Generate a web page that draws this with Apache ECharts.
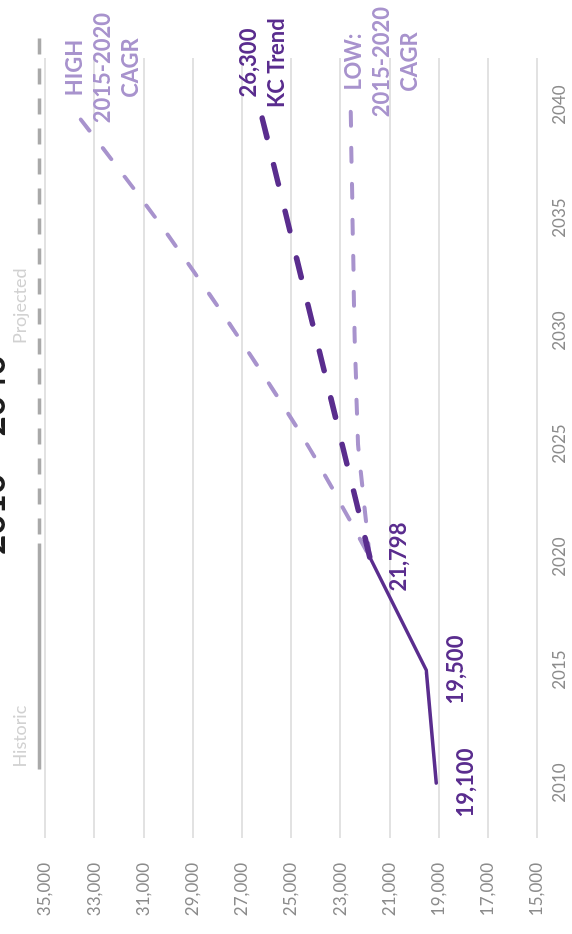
<!DOCTYPE html>
<html>
<head>
<meta charset="utf-8">
<script src="https://cdn.jsdelivr.net/npm/echarts@6/dist/echarts.min.js"></script>
<style>
  html, body { margin: 0; padding: 0; background: #fff; overflow: hidden; width: 572px; height: 934px; }
  #wrap { position: absolute; left: 0; top: 0; width: 934px; height: 572px;
          transform-origin: 0 0; transform: translate(0, 934px) rotate(-90deg); }
</style>
</head>
<body>
<div id="wrap"></div>
<script>
// ---- data ----
const yearTicks = [2010, 2015, 2020, 2025, 2030, 2035, 2040];
const histYears = [2010, 2015, 2020];
const histValues = [19100, 19500, 21798];
const trendYears = [2020, 2040];
const trendValues = [21798, 26300];
const projYears = [2020, 2025, 2030, 2035, 2040];
const highValues = [21798, 24350, 27300, 30500, 34000];
const lowValues = [21798, 22280, 22420, 22500, 22580];
const markerLevel = 35224;
const historicSpan = [2020.6, 2010.6];
const projectedSpan = [2021, 2043.5];
const projectedLabelYear = 2031.1;
const cagrPeriod = '2015-2020';
const titleText = '2010 \u2013 2040';

const DARK = '#5a2d8e';
const LIGHT = '#a893cd';
const GRAY = '#a9a9a9';
const FONT = 'Lato, "Open Sans", sans-serif';
const fmt = v => Math.round(v).toLocaleString('en-US');
const pairs = (xs, ys) => xs.map((x, i) => [x, ys[i]]);

const chart = echarts.init(document.getElementById('wrap'), null, { width: 934, height: 572 });

const yearMin = 2007.57, yearPerPx = 1 / 22.6;
const hiddenAxis = { show: false, axisLine: { show: false }, axisTick: { show: false }, axisLabel: { show: false }, splitLine: { show: false } };

chart.setOption({
  animation: false,
  backgroundColor: '#fff',
  textStyle: { fontFamily: FONT },
  title: {
    text: titleText, left: 374, top: -29,
    textStyle: { fontFamily: FONT, fontSize: 35, fontWeight: 'bold', color: '#1e1e1e' }
  },
  grid: [
    { left: 96, right: 58, top: 45, bottom: 35 },
    { left: 96, right: 22, top: 45, bottom: 35 }
  ],
  xAxis: [
    {
      type: 'value', min: yearMin, max: yearMin + 780 * yearPerPx, gridIndex: 0,
      axisLine: { show: false }, axisTick: { show: false }, splitLine: { show: false },
      axisLabel: { customValues: yearTicks, formatter: v => String(v), margin: 14, fontSize: 17, color: '#8c8c8c', fontFamily: FONT }
    },
    Object.assign({ type: 'value', min: yearMin, max: yearMin + 816 * yearPerPx, gridIndex: 1 }, hiddenAxis)
  ],
  yAxis: [
    {
      type: 'value', min: 15000, max: 35000, interval: 2000, gridIndex: 0,
      axisLine: { show: false }, axisTick: { show: false },
      splitLine: { lineStyle: { color: '#d9d9d9', width: 1.5 } },
      axisLabel: { formatter: v => fmt(v), margin: 25, fontSize: 17, color: '#8c8c8c', fontFamily: FONT }
    },
    Object.assign({ type: 'value', min: 15000, max: 35000, interval: 2000, gridIndex: 1 }, hiddenAxis)
  ],
  series: [
    {
      name: 'historicMarker', type: 'line', clip: false, silent: true, xAxisIndex: 1, yAxisIndex: 1,
      data: historicSpan.map(x => [x, markerLevel]),
      symbol: 'none', lineStyle: { color: GRAY, width: 3.5 }
    },
    {
      name: 'projectedMarker', type: 'line', clip: false, silent: true, xAxisIndex: 1, yAxisIndex: 1,
      data: projectedSpan.map(x => [x, markerLevel]),
      symbol: 'none', lineStyle: { color: GRAY, width: 3.5, type: [16, 14] }
    },
    {
      name: 'markerLabels', type: 'scatter', clip: false, silent: true, xAxisIndex: 1, yAxisIndex: 1,
      symbolSize: 1, itemStyle: { color: 'rgba(0,0,0,0)' },
      data: [
        { value: [historicSpan[1], markerLevel], label: { formatter: 'Historic', align: 'left', offset: [2, -19] } },
        { value: [projectedLabelYear, markerLevel], label: { formatter: 'Projected', align: 'center', offset: [0, -19] } }
      ],
      label: { show: true, position: 'inside', verticalAlign: 'middle', fontSize: 18, color: '#c6c6c6', fontFamily: FONT }
    },
    {
      name: 'HIGH', type: 'line', smooth: 0.3, clip: false,
      data: pairs(projYears, highValues), symbol: 'none',
      lineStyle: { color: LIGHT, width: 4, type: [14, 22], dashOffset: 29, cap: 'round' },
      endLabel: {
        show: true, formatter: () => 'HIGH\n' + cagrPeriod + '\nCAGR',
        distance: 0, align: 'center', verticalAlign: 'middle', offset: [37, 33],
        fontSize: 22, fontWeight: 'bold', lineHeight: 28, color: LIGHT, fontFamily: FONT
      }
    },
    {
      name: 'LOW', type: 'line', clip: false,
      data: pairs(projYears, lowValues), symbol: 'none',
      lineStyle: { color: LIGHT, width: 4, type: [14, 22], cap: 'round' },
      endLabel: {
        show: true, formatter: () => 'LOW:\n' + cagrPeriod + '\nCAGR',
        distance: 0, align: 'center', verticalAlign: 'middle', offset: [43, 31],
        fontSize: 22, fontWeight: 'bold', lineHeight: 28, color: LIGHT, fontFamily: FONT
      }
    },
    {
      name: 'KC Trend', type: 'line', clip: false,
      data: pairs(trendYears, trendValues), symbol: 'none',
      lineStyle: { color: DARK, width: 5.5, type: [20, 28], cap: 'round' },
      endLabel: {
        show: true, formatter: p => fmt(p.value[1]) + '\nKC Trend',
        distance: 0, align: 'center', verticalAlign: 'middle', offset: [42, 4],
        fontSize: 22, fontWeight: 'bold', lineHeight: 28, color: DARK, fontFamily: FONT
      }
    },
    {
      name: 'KC', type: 'line', clip: false,
      data: pairs(histYears, histValues),
      symbol: 'circle', symbolSize: 1, showSymbol: true,
      itemStyle: { color: DARK },
      lineStyle: { color: DARK, width: 3.5, cap: 'round', join: 'round' },
      label: {
        show: true, position: 'bottom', distance: 18,
        formatter: p => fmt(p.value[1]),
        fontSize: 22, fontWeight: 'bold', color: DARK, fontFamily: FONT
      }
    }
  ]
});
</script>
</body>
</html>
